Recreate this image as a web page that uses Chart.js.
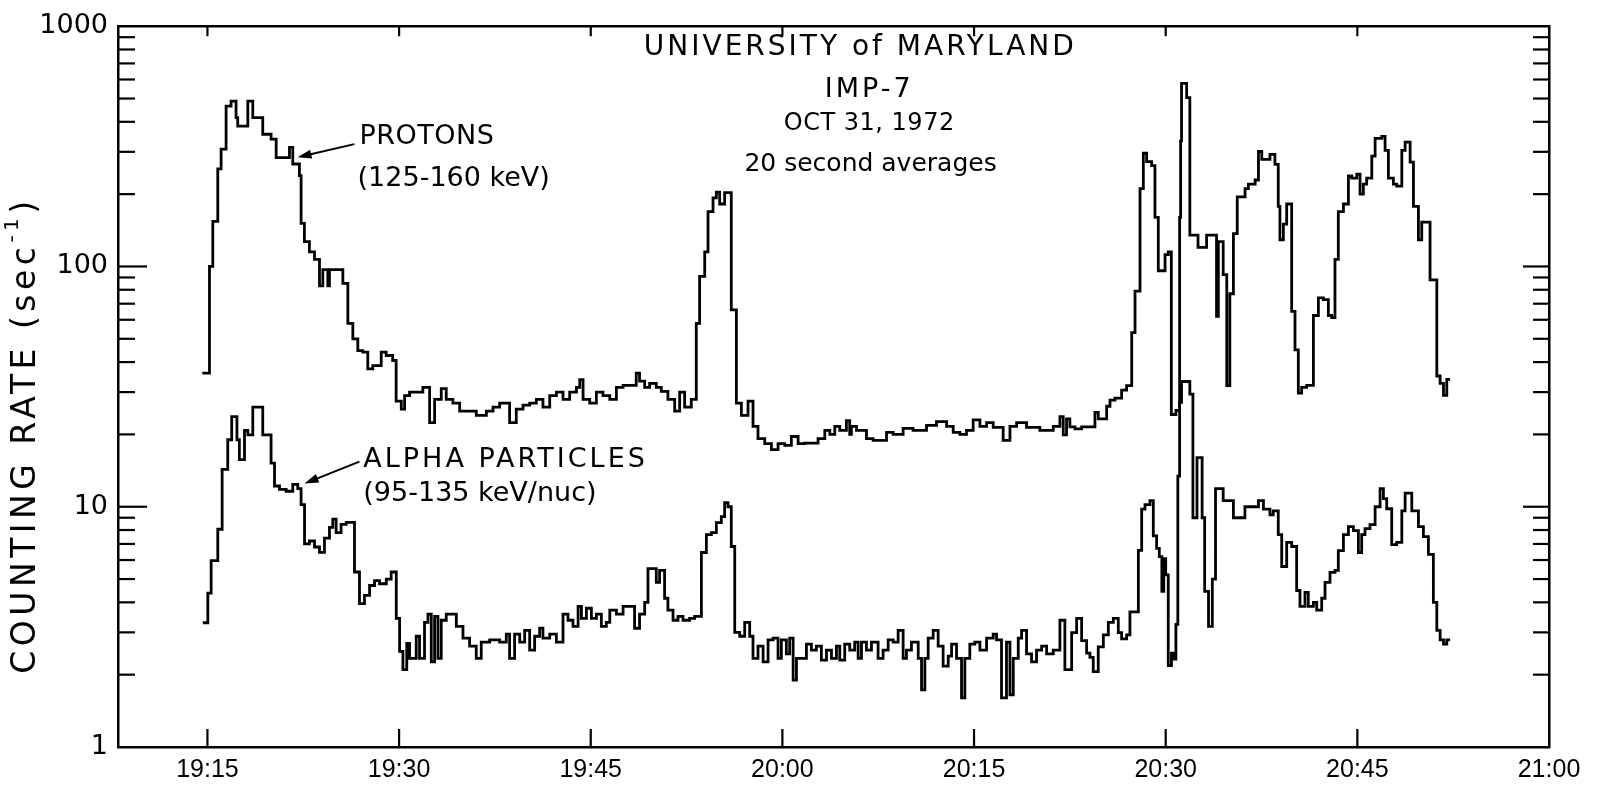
<!DOCTYPE html>
<html><head><meta charset="utf-8">
<script src="https://cdn.jsdelivr.net/npm/chart.js@4.4.1/dist/chart.umd.min.js"></script>
<style>html,body{margin:0;padding:0;background:#fff;}canvas{display:block;}</style>
</head><body>
<canvas id="c" width="1608" height="792"></canvas>
<script>
// time = minutes after 19:00 UT, each point starts a step
const protonTime = [14.60,15.16,15.42,15.81,16.07,16.46,16.85,17.24,17.37,18.16,18.55,19.33,19.98,20.38,21.42,21.68,22.20,22.33,22.59,22.98,23.38,23.77,24.03,24.42,24.55,25.60,25.99,26.38,26.77,27.16,27.55,27.94,28.60,28.99,29.50,29.77,30.17,30.43,30.82,31.86,32.39,32.78,33.30,33.69,34.21,34.74,36.04,36.83,37.35,37.87,38.65,39.17,39.70,40.22,40.74,41.26,41.79,42.31,42.83,43.35,43.88,44.14,44.40,44.92,45.44,45.96,46.49,47.01,47.53,48.56,48.82,49.22,49.61,50.13,50.52,51.04,51.57,51.96,52.35,52.87,53.26,53.52,53.92,54.18,54.57,54.83,55.09,55.48,56.00,56.40,56.79,57.31,57.70,58.09,58.62,59.14,59.66,60.18,60.70,61.23,61.75,62.79,63.32,63.71,64.10,64.49,65.01,65.27,65.40,65.80,66.58,67.10,68.15,68.67,69.45,70.23,71.28,72.06,72.85,73.37,73.89,74.41,74.93,75.46,75.98,76.50,77.28,77.81,78.33,79.11,80.15,81.20,81.72,81.98,82.24,82.50,82.90,83.42,84.46,84.72,85.38,85.64,86.03,86.55,86.94,87.34,87.60,87.99,88.25,88.51,88.90,89.16,89.42,89.95,90.20,90.44,90.80,91.09,91.17,91.24,91.64,91.89,92.53,93.20,93.98,94.12,94.50,94.78,95.02,95.30,95.60,96.21,96.47,97.00,97.26,97.52,98.16,98.55,98.81,98.94,99.21,99.47,99.86,100.12,100.38,100.64,101.03,101.56,101.95,102.34,102.73,102.99,103.25,103.51,103.91,104.30,104.56,104.95,105.21,105.47,105.73,106.13,106.39,106.91,107.17,107.43,107.82,108.08,108.48,108.74,109.13,109.39,109.78,110.04,110.69,111.22,111.48,111.74,112.00,112.26];
const protonRate = [36,100,154,255,308,465,488,416,384,488,416,355,339,284,313,267,239,151,127,115,107,83,97,83,97,85,58,50,44.6,44,37.5,38.7,44,42.6,40.6,27.5,25.5,29,30,31.4,22.4,28,31,28,27,25,24,25,26,27,22.4,25.5,26.5,27,28,26,29,30,28,30,31.4,33.8,28,27,30,29,28,31.4,32,36,33.3,31.4,32.6,31.4,30.2,28,25,30,26,28,58,91,115,169,193,204,182,203,66,27,24,27.5,21.6,19.2,18.3,17.3,18.3,18,19.6,18.3,18.4,19.2,20.8,20,21.6,20.8,22.8,20,21.6,20.8,19.2,18.9,20.4,20,21.2,20.8,21.8,22.6,21.6,20.4,20,20.8,23,21.6,22.4,21.4,18.9,21.6,22.4,21.4,20.8,21.6,23.7,19.9,23.2,21.5,21.1,21.5,24.7,23.2,26.2,27.8,28.3,30.6,31.9,53,79,211,296,273,263,160,96,112,115,24.2,25.2,160,333,578,504,135,120,135,62,127,92.5,31.9,77,137,195,211,220,229,301,279,293,266,178,129,150,182,65,45,29.7,31.4,32,62.5,74,72.8,62.5,61.3,107,169,182,238,233,242,200,220,233,288,341,348,304,233,220,216,304,329,272,178,129,153,88,35,32.6,29.1,33.9,33.9];
const alphaTime = [14.64,15.03,15.29,15.81,16.15,16.59,16.90,17.31,17.50,17.90,18.16,18.55,19.33,19.98,20.25,20.64,21.16,21.68,22.07,22.33,22.60,22.98,23.38,23.77,24.16,24.55,24.81,25.07,25.46,25.86,26.51,26.90,27.29,27.69,28.08,28.47,29.00,29.38,29.78,30.04,30.30,30.60,30.82,31.34,31.60,31.99,32.26,32.52,32.78,33.04,33.30,33.69,34.48,35.00,35.52,36.04,36.43,37.09,37.87,38.39,38.65,39.04,39.44,39.83,40.22,40.61,41.00,41.26,41.79,42.31,42.83,43.22,43.61,44.01,44.27,44.66,45.05,45.44,45.83,46.22,46.49,47.01,47.53,48.43,48.82,49.22,49.48,50.13,50.39,50.78,51.04,51.44,51.83,52.22,52.74,53.13,53.66,54.05,54.44,54.83,55.22,55.48,55.74,56.00,56.27,56.66,57.05,57.44,57.70,58.09,58.49,58.88,59.27,59.66,59.92,60.31,60.57,60.84,61.10,61.88,62.27,62.66,63.05,63.45,63.84,64.23,64.49,64.88,65.27,65.66,65.93,66.19,66.58,66.97,67.49,67.88,68.28,68.67,69.06,69.45,69.71,70.10,70.63,70.89,71.15,71.41,71.80,72.19,72.58,72.98,73.24,73.63,74.02,74.28,74.67,75.06,75.46,75.98,76.50,76.76,77.15,77.54,77.81,78.07,78.46,78.72,79.11,79.50,79.89,80.29,80.68,81.20,81.72,82.11,82.64,83.03,83.42,83.81,84.07,84.33,84.72,85.12,85.51,85.90,86.29,86.55,86.94,87.20,87.86,88.12,88.38,88.77,89.03,89.29,89.50,89.70,89.85,90.00,90.20,90.45,90.65,90.80,90.95,91.09,91.24,91.89,92.13,92.45,92.85,93.05,93.35,93.65,93.90,94.50,95.30,96.20,97.26,97.65,98.16,98.42,98.81,99.08,99.47,99.86,100.25,100.51,100.90,101.16,101.56,101.82,102.21,102.47,102.86,103.25,103.51,103.91,104.30,104.69,105.08,105.34,105.60,105.99,106.39,106.78,107.04,107.30,107.69,108.08,108.48,108.74,109.26,109.78,110.17,110.56,110.95,111.22,111.48,111.74,112.00,112.26];
const alphaRate = [3.29,4.37,5.97,8.06,14.3,19.0,23.7,19.0,15.7,20.8,19.9,26.0,19.9,15.2,12.2,11.8,11.6,12.4,11.9,10.2,7.0,7.2,6.8,6.46,7.4,8.2,8.87,7.8,8.45,8.6,5.35,3.95,4.28,4.7,4.93,4.78,5.0,5.35,3.43,2.5,2.1,2.7,2.34,2.89,2.34,3.3,3.57,2.26,3.5,2.34,3.37,3.57,3.18,2.84,2.63,2.34,2.73,2.79,2.73,2.95,2.34,2.95,2.73,3.06,2.53,2.89,3.12,2.84,2.95,2.73,3.57,3.37,3.18,3.85,3.43,3.78,3.43,3.57,3.18,3.3,3.71,3.57,3.85,3.12,3.57,4.0,5.53,4.84,5.43,4.16,3.71,3.37,3.5,3.37,3.43,3.5,6.45,7.66,7.8,8.59,9.1,10.4,10.0,6.83,3.0,2.89,3.3,2.89,2.34,2.63,2.26,2.79,2.84,2.34,2.79,2.44,2.84,1.9,2.34,2.68,2.53,2.63,2.3,2.53,2.34,2.63,2.3,2.68,2.53,2.73,2.34,2.73,2.53,2.73,2.34,2.53,2.79,2.73,3.06,2.34,2.53,2.73,2.34,1.73,2.34,2.84,3.06,2.63,2.17,2.39,2.68,2.34,1.6,2.34,2.68,2.73,2.53,2.84,2.95,2.79,1.6,2.73,1.65,2.34,2.84,3.06,2.44,2.26,2.53,2.63,2.44,2.53,3.37,2.1,2.99,3.43,2.77,2.46,2.36,2.06,2.61,2.93,3.3,3.43,2.99,2.82,2.93,3.65,6.58,9.77,10.2,10.6,7.56,6.71,6.2,4.44,6.08,5.2,2.18,2.46,2.32,3.24,13.4,27.2,33.2,29.4,9.0,16.0,9.0,4.44,3.18,5.0,11.9,10.6,9.0,10.0,10.6,9.77,9.26,9.62,7.66,5.64,7.1,6.83,4.48,3.85,4.4,3.85,4.0,3.71,4.16,4.84,5.33,5.43,6.57,7.66,8.26,7.96,6.45,7.66,8.11,8.42,10.0,11.9,10.8,9.81,6.96,7.1,9.62,11.4,9.62,8.26,7.51,6.33,4.0,3.06,2.79,2.68,2.79,2.79];
const timeTicks = [15,30,45,60,75,90,105,120];
const rateTicks = [1,10,100,1000];
const titleLines = ['UNIVERSITY of MARYLAND','IMP-7','OCT 31, 1972','20 second averages'];
const protonLabel = ['PROTONS','(125-160 keV)'];
const alphaLabel = ['ALPHA PARTICLES','(95-135 keV/nuc)'];
const yTitle = ['COUNTING RATE (sec','-1',')'];

const FONT = '"DejaVu Sans", sans-serif';
const fmtTime = v => { const h = 19 + Math.floor(v/60), m = Math.round(v % 60); return h + ':' + String(m).padStart(2,'0'); };
const pts = (t, r) => t.map((x, i) => ({x, y: r[i]}));

// annotation anchors in data units (time, rate)
const texts = [
  {s: titleLines[0], t: 66.1, v: 812, size: 28, align: 'center', ls: 3},
  {s: titleLines[1], t: 66.8, v: 545, size: 27, align: 'center', ls: 3},
  {s: titleLines[2], t: 66.8, v: 391, size: 24, align: 'center', ls: 0.5},
  {s: titleLines[3], t: 66.9, v: 265, size: 25, align: 'center', ls: 0},
  {s: protonLabel[0], t: 26.9, v: 345, size: 27, align: 'left', ls: 0.5},
  {s: protonLabel[1], t: 26.75, v: 232, size: 27, align: 'left', ls: 0},
  {s: alphaLabel[0], t: 27.2, v: 15.6, size: 27, align: 'left', ls: 3},
  {s: alphaLabel[1], t: 27.2, v: 11.3, size: 27, align: 'left', ls: 0}
];
const arrows = [
  {from: [26.5, 323], to: [22.05, 285]},
  {from: [26.9, 15.4], to: [22.6, 12.5]}
];

const decor = {
  id: 'decor',
  afterDraw(chart) {
    const ctx = chart.ctx, xs = chart.scales.x, ys = chart.scales.y, a = chart.chartArea;
    ctx.save();
    ctx.strokeStyle = '#000'; ctx.fillStyle = '#000'; ctx.lineWidth = 2.2;
    const line = (x1, y1, x2, y2) => { ctx.beginPath(); ctx.moveTo(x1, y1); ctx.lineTo(x2, y2); ctx.stroke(); };
    timeTicks.forEach(t => {
      const px = xs.getPixelForValue(t);
      if (px > a.left + 3 && px < a.right - 3) { line(px, a.bottom, px, a.bottom - 18); line(px, a.top, px, a.top + 10); }
    });
    for (let d = 1; d < 1000; d *= 10) {
      for (let k = 1; k < 10; k++) {
        const v = d * k; if (v === 1) continue;
        const py = ys.getPixelForValue(v), major = k === 1;
        line(a.left, py, a.left + (major ? 29 : 17), py);
        line(a.right, py, a.right - (major ? 26 : 16), py);
      }
    }
    arrows.forEach(ar => {
      const x1 = xs.getPixelForValue(ar.from[0]), y1 = ys.getPixelForValue(ar.from[1]);
      const x2 = xs.getPixelForValue(ar.to[0]), y2 = ys.getPixelForValue(ar.to[1]);
      const ang = Math.atan2(y2 - y1, x2 - x1), L = 14, W = 4.5;
      ctx.lineWidth = 2;
      line(x1, y1, x2 - Math.cos(ang) * L * 0.8, y2 - Math.sin(ang) * L * 0.8);
      ctx.beginPath();
      ctx.moveTo(x2, y2);
      ctx.lineTo(x2 - Math.cos(ang) * L - Math.sin(ang) * W, y2 - Math.sin(ang) * L + Math.cos(ang) * W);
      ctx.lineTo(x2 - Math.cos(ang) * L + Math.sin(ang) * W, y2 - Math.sin(ang) * L - Math.cos(ang) * W);
      ctx.closePath(); ctx.fill();
    });
    ctx.textBaseline = 'middle';
    texts.forEach(o => {
      ctx.font = o.size + 'px ' + FONT;
      ctx.letterSpacing = o.ls + 'px';
      ctx.textAlign = o.align;
      ctx.fillText(o.s, xs.getPixelForValue(o.t), ys.getPixelForValue(o.v));
    });
    // y-axis title (rotated, with superscript)
    ctx.translate(26, 435);
    ctx.rotate(-Math.PI / 2);
    ctx.textAlign = 'left';
    ctx.letterSpacing = '4.5px';
    const big = '33px ' + FONT, small = '20px ' + FONT;
    ctx.font = big; const w1 = ctx.measureText(yTitle[0]).width, w3 = ctx.measureText(yTitle[2]).width;
    ctx.font = small; const w2 = ctx.measureText(yTitle[1]).width;
    let x0 = -(w1 + w2 + w3) / 2;
    ctx.font = big; ctx.fillText(yTitle[0], x0, 0); x0 += w1;
    ctx.font = small; ctx.fillText(yTitle[1], x0, -13); x0 += w2;
    ctx.font = big; ctx.fillText(yTitle[2], x0, 0);
    ctx.letterSpacing = '0px';
    ctx.restore();
  }
};

const border = {display: true, color: '#000', width: 2.5};
new Chart(document.getElementById('c'), {
  type: 'line',
  data: {
    datasets: [
      {label: 'PROTONS (125-160 keV)', data: pts(protonTime, protonRate)},
      {label: 'ALPHA PARTICLES (95-135 keV/nuc)', data: pts(alphaTime, alphaRate)}
    ].map(d => Object.assign(d, {borderColor: '#000', borderWidth: 2.8, pointRadius: 0, stepped: true, fill: false}))
  },
  options: {
    responsive: false, animation: false, devicePixelRatio: 1,
    layout: {padding: 0},
    plugins: {legend: {display: false}, tooltip: {enabled: false}},
    scales: {
      x: {type: 'linear', position: 'bottom', min: 8, max: 120,
          afterBuildTicks: s => { s.ticks = timeTicks.map(v => ({value: v})); },
          afterFit: s => { s.height = 45; },
          ticks: {callback: v => fmtTime(v), color: '#000', font: {family: 'Liberation Sans', size: 25}, padding: 8, maxRotation: 0, autoSkip: false},
          grid: {display: false, drawTicks: false}, border},
      x2: {type: 'linear', position: 'top', min: 8, max: 120,
          afterFit: s => { s.height = 20; },
          ticks: {display: false}, grid: {display: false, drawTicks: false}, border},
      y: {type: 'logarithmic', position: 'left', min: 1, max: 1000,
          afterBuildTicks: s => { s.ticks = rateTicks.map(v => ({value: v})); },
          afterFit: s => { s.width = 118; },
          ticks: {callback: v => String(v), color: '#000', font: {family: 'DejaVu Sans', size: 27}, padding: 10, autoSkip: false},
          grid: {display: false, drawTicks: false}, border},
      y2: {type: 'logarithmic', position: 'right', min: 1, max: 1000,
          afterFit: s => { s.width = 59; },
          ticks: {display: false}, grid: {display: false, drawTicks: false}, border}
    }
  },
  plugins: [decor]
});
</script>
</body></html>
